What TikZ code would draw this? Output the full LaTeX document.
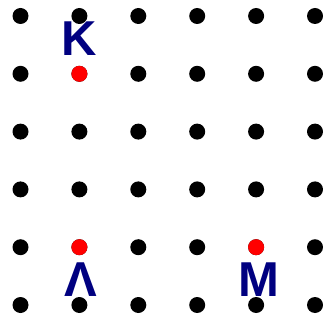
\documentclass[tikz,border=0pt]{standalone}
\usepackage{fontspec}
\setmainfont{Liberation Sans}
\begin{document}
\begin{tikzpicture}[x=1pt, y=-1pt]
  \useasboundingbox (0,0) rectangle (323,320);
  \tikzset{
    latdot/.style={circle, fill=black, inner sep=0pt, minimum size=16pt},
    hsdot/.style={latdot, fill=red},
    hslabel/.style={anchor=base, inner sep=0pt, text=navy,
      font=\fontsize{49}{49}\selectfont\bfseries}
  }
  \definecolor{navy}{RGB}{0,0,128}
  % lattice of points
  \foreach \i in {0,...,5}
    \foreach \j in {0,...,5}
      \node[latdot] (d-\i-\j) at ({20.5+58.9*\i}, {16+57.8*\j}) {};
  % high symmetry points
  \node[hsdot] (K) at (d-1-1) {};
  \node[hsdot] (G) at (d-1-4) {};
  \node[hsdot] (M) at (d-4-4) {};
  \node[hslabel] (Klab) at (79.5,56) {K};
  \node[hslabel] (Glab) at (80.5,296) {Λ};
  \node[hslabel] (Mlab) at (259,296) {M};
\end{tikzpicture}
\end{document}
